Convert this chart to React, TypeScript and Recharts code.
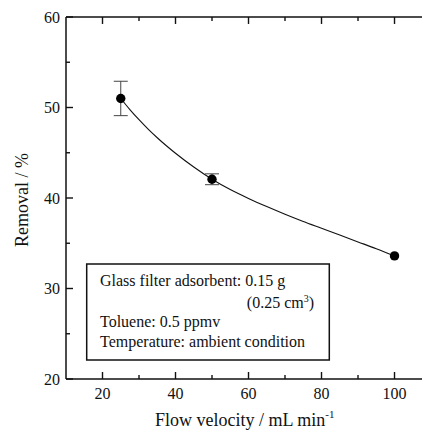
import React from 'react';
import { ComposedChart, Line, Scatter, XAxis, YAxis, ErrorBar, ReferenceLine } from 'recharts';

// measured points
const flowVelocity = [25, 50, 100];
const removal = [51.0, 42.07, 33.6];
const removalError = [1.9, 0.6, 0];

// fitted curve
const fitVelocity = [25, 27.5, 30, 32.5, 35, 37.5, 40, 45, 50, 55, 60, 65, 70, 75, 80, 85, 90, 95, 100];
const fitRemoval = [51.0, 49.77, 48.65, 47.61, 46.66, 45.77, 44.94, 43.42, 42.07, 40.93, 39.95, 39.05, 38.2, 37.4, 36.65, 35.9, 35.15, 34.4, 33.6];

const xTicks = [20, 30, 40, 50, 60, 70, 80, 90, 100];
const xLabels = [20, 40, 60, 80, 100];
const yTicks = [20, 25, 30, 35, 40, 45, 50, 55, 60];
const yLabels = [20, 30, 40, 50, 60];

const xTitle = 'Flow velocity / mL min';
const xTitleSup = '-1';
const yTitle = 'Removal / %';
const boxLines = ['Glass filter adsorbent: 0.15 g', '(0.25 cm', ')', 'Toluene: 0.5 ppmv', 'Temperature: ambient condition'];

// the original frame is cut by the picture's right edge
const X_MIN = 10;
const X_MAX = 107.53;
const Y_MIN = 20;
const Y_MAX = 60;
// top ticks, in y data units (about 7px / 4px)
const TOP_MAJOR = 0.77;
const TOP_MINOR = 0.44;

const pointData = flowVelocity.map((x, i) => ({ x, y: removal[i], err: removalError[i] }));
const fitData = fitVelocity.map((x, i) => ({ x, y: fitRemoval[i] }));

const FONT = '"Liberation Serif", "Times New Roman", serif';
const INK = '#111';

const BottomTick = (props: any) => {
  const { x, y, payload } = props;
  const v = payload.value;
  const major = xLabels.includes(v);
  return (
    <g>
      <line x1={x} x2={x} y1={y} y2={y - (major ? 7 : 4)} stroke={INK} strokeWidth={1.4} />
      {major && (
        <text x={x} y={y + 19.5} textAnchor="middle" fontSize={16} fontFamily={FONT} fill={INK}>
          {v}
        </text>
      )}
    </g>
  );
};

const LeftTick = (props: any) => {
  const { x, y, payload } = props;
  const v = payload.value;
  const major = yLabels.includes(v);
  return (
    <g>
      <line x1={x} x2={x + (major ? 7 : 4)} y1={y} y2={y} stroke={INK} strokeWidth={1.4} />
      {major && (
        <text x={x - 6} y={y + 5.5} textAnchor="end" fontSize={16} fontFamily={FONT} fill={INK}>
          {v}
        </text>
      )}
    </g>
  );
};

const Dot = (p: any) => <circle cx={p.cx} cy={p.cy} r={4.7} fill="#000" />;

const Annotations = () => (
  <g>
    <rect x={86.7} y={264} width={242.6} height={96} fill="#fff" stroke={INK} strokeWidth={1.5} />
    <text fontFamily={FONT} fontSize={16} fill={INK} x={100} y={286}>{boxLines[0]}</text>
    <text fontFamily={FONT} fontSize={16} fill={INK} x={314} y={308} textAnchor="end">
      {boxLines[1]}
      <tspan fontSize={10} dy={-6}>3</tspan>
      <tspan dy={6}>{boxLines[2]}</tspan>
    </text>
    <text fontFamily={FONT} fontSize={16} fill={INK} x={100} y={327}>{boxLines[3]}</text>
    <text fontFamily={FONT} fontSize={16} fill={INK} x={100} y={346.5}>{boxLines[4]}</text>
    <text fontFamily={FONT} fontSize={18} fill={INK} x={155} y={426}>
      {xTitle}
      <tspan fontSize={11} dy={-8}>{xTitleSup}</tspan>
    </text>
    <text fontFamily={FONT} fontSize={18} fill={INK} textAnchor="middle" transform="translate(28.3,200) rotate(-90)">
      {yTitle}
    </text>
  </g>
);

export default function App() {
  return (
    <>
      <style>{'html,body{margin:0;padding:0;overflow:hidden;background:#fff}'}</style>
      <ComposedChart width={422} height={431} margin={{ top: 17, right: 0, bottom: 0, left: 0 }}>
        <XAxis
          dataKey="x"
          type="number"
          domain={[X_MIN, X_MAX]}
          ticks={xTicks}
          interval={0}
          height={52}
          tickSize={0}
          tickMargin={0}
          tickLine={false}
          axisLine={{ stroke: INK, strokeWidth: 1.5 }}
          tick={(p: any) => <BottomTick {...p} />}
        />
        <YAxis
          dataKey="y"
          type="number"
          domain={[Y_MIN, Y_MAX]}
          ticks={yTicks}
          interval={0}
          width={66}
          tickSize={0}
          tickMargin={0}
          tickLine={false}
          axisLine={{ stroke: INK, strokeWidth: 1.5 }}
          tick={(p: any) => <LeftTick {...p} />}
        />
        <ReferenceLine y={Y_MAX} stroke={INK} strokeWidth={1.5} />
        {xTicks.map((v) => (
          <ReferenceLine
            key={'t' + v}
            segment={[{ x: v, y: Y_MAX }, { x: v, y: Y_MAX - (xLabels.includes(v) ? TOP_MAJOR : TOP_MINOR) }]}
            stroke={INK}
            strokeWidth={1.4}
          />
        ))}
        <Line
          data={fitData}
          dataKey="y"
          type="monotone"
          stroke={INK}
          strokeWidth={1.1}
          dot={false}
          activeDot={false}
          isAnimationActive={false}
        />
        <Scatter data={pointData} dataKey="y" shape={Dot} isAnimationActive={false}>
          <ErrorBar dataKey="err" direction="y" width={7} stroke="#444" strokeWidth={1} isAnimationActive={false} />
        </Scatter>
        <Annotations />
      </ComposedChart>
    </>
  );
}
